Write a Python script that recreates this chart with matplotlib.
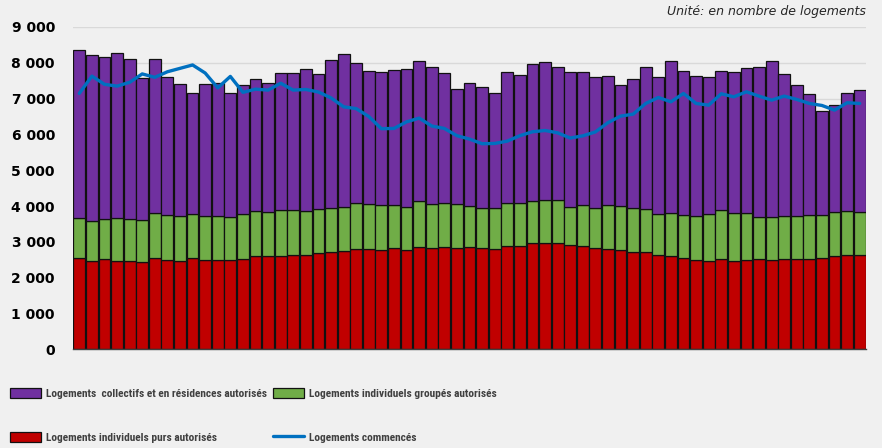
import matplotlib
matplotlib.use("Agg")
import matplotlib.pyplot as plt
import numpy as np

# Data (63 periods)
total = [8353, 8232, 8149, 8270, 8093, 7581, 8102, 7591, 7405, 7144,
         7414, 7442, 7163, 7367, 7544, 7423, 7702, 7702, 7814, 7693,
         8074, 8242, 7981, 7776, 7730, 7786, 7814, 8037, 7870, 7702,
         7256, 7442, 7321, 7163, 7730, 7665, 7963, 8018, 7870, 7749,
         7749, 7609, 7618, 7367, 7535, 7888, 7609, 8056, 7776, 7628,
         7591, 7767, 7749, 7860, 7870, 8056, 7693, 7386, 7125, 6660,
         6828, 7163, 7246]
green_top = [3674, 3581, 3637, 3656, 3647, 3619, 3795, 3740, 3712, 3767,
             3721, 3721, 3684, 3767, 3851, 3823, 3898, 3898, 3851, 3907,
             3935, 3963, 4074, 4056, 4018, 4028, 3963, 4130, 4056, 4074,
             4056, 3991, 3935, 3935, 4093, 4074, 4139, 4158, 4158, 3963,
             4018, 3935, 4028, 3991, 3935, 3907, 3777, 3795, 3749, 3721,
             3777, 3888, 3814, 3814, 3702, 3702, 3721, 3730, 3749, 3758,
             3823, 3870, 3842]
indiv_purs = [2539, 2465, 2512, 2465, 2465, 2428, 2540, 2484, 2465, 2540,
              2484, 2484, 2484, 2512, 2595, 2595, 2614, 2632, 2632, 2679,
              2707, 2735, 2791, 2791, 2763, 2819, 2763, 2846, 2819, 2846,
              2819, 2846, 2819, 2791, 2884, 2874, 2967, 2967, 2977, 2902,
              2884, 2819, 2791, 2772, 2716, 2716, 2632, 2614, 2549, 2484,
              2465, 2512, 2465, 2493, 2512, 2484, 2512, 2521, 2521, 2540,
              2595, 2623, 2642]
commences = [7145, 7628, 7400, 7349, 7455, 7690, 7595, 7750, 7845, 7940,
             7715, 7300, 7620, 7175, 7265, 7237, 7430, 7237, 7256, 7185,
             7020, 6772, 6720, 6500, 6160, 6167, 6352, 6455, 6236, 6167,
             5965, 5870, 5740, 5748, 5813, 5965, 6074, 6110, 6045, 5900,
             5960, 6070, 6330, 6511, 6567, 6865, 7032, 6911, 7144, 6865,
             6818, 7135, 7051, 7191, 7070, 6958, 7070, 6977, 6865, 6809,
             6679, 6884, 6865]

indiv_groupes = [g - r for g, r in zip(green_top, indiv_purs)]
collectifs = [t - g for t, g in zip(total, green_top)]

yticks = [0, 1000, 2000, 3000, 4000, 5000, 6000, 7000, 8000, 9000]
ytick_labels = ["0", "1 000", "2 000", "3 000", "4 000", "5 000", "6 000",
                "7 000", "8 000", "9 000"]

labels = ["Logements  collectifs et en résidences autorisés",
          "Logements individuels groupés autorisés",
          "Logements individuels purs autorisés",
          "Logements commencés"]

bg = "#f0f0f0"
fig = plt.figure(figsize=(8.82, 4.48), dpi=100, facecolor=bg)
ax = fig.add_axes([73/882, 1-349.3/448, (866-73)/882, (349.3-27)/448])
ax.set_facecolor(bg)

x = np.arange(len(total))
w = 0.94
ec = "#111111"
b_red = ax.bar(x, indiv_purs, w, color="#C00000", edgecolor=ec, linewidth=0.9, zorder=2)
b_green = ax.bar(x, indiv_groupes, w, bottom=indiv_purs, color="#70AD47",
                 edgecolor=ec, linewidth=0.9, zorder=2)
b_purple = ax.bar(x, collectifs, w, bottom=green_top, color="#7030A0",
                  edgecolor=ec, linewidth=0.9, zorder=2)
line, = ax.plot(x, commences, color="#0070C0", lw=2.4, zorder=3,
                solid_joinstyle="round", solid_capstyle="round")

ax.set_xlim(-0.5, len(total) - 0.5)
ax.set_ylim(0, 9000)
ax.set_yticks(yticks)
ax.set_yticklabels(ytick_labels, fontsize=10, fontweight="bold", color="black")
ax.tick_params(axis="y", length=0, pad=13)
ax.set_xticks([])
ax.yaxis.grid(True, color="#d9d9d9", lw=1, zorder=0)
ax.set_axisbelow(True)
for s in ["left", "right", "top"]:
    ax.spines[s].set_visible(False)
ax.spines["bottom"].set_color("#404040")
ax.spines["bottom"].set_linewidth(1)

fig.text(866/882, 1-12/448, "Unité: en nombre de logements", ha="right",
         va="center", fontsize=9, style="italic", color="#262626")

leg = fig.legend([b_purple, b_red, b_green, line],
                 [labels[0], labels[2], labels[1], labels[3]],
                 ncol=2, loc="upper left", bbox_to_anchor=(0/882, 1-377.5/448),
                 frameon=False, handlelength=2.7, handleheight=1.0,
                 handletextpad=0.45, columnspacing=0.55, labelspacing=2.9,
                 prop={"size": 8.2, "weight": "bold", "stretch": "condensed",
                       "family": ["Roboto Condensed", "Open Sans Condensed",
                                  "DejaVu Sans"]})
for t in leg.get_texts():
    t.set_color("#404040")

fig.savefig("out.png", dpi=100, facecolor=bg)
